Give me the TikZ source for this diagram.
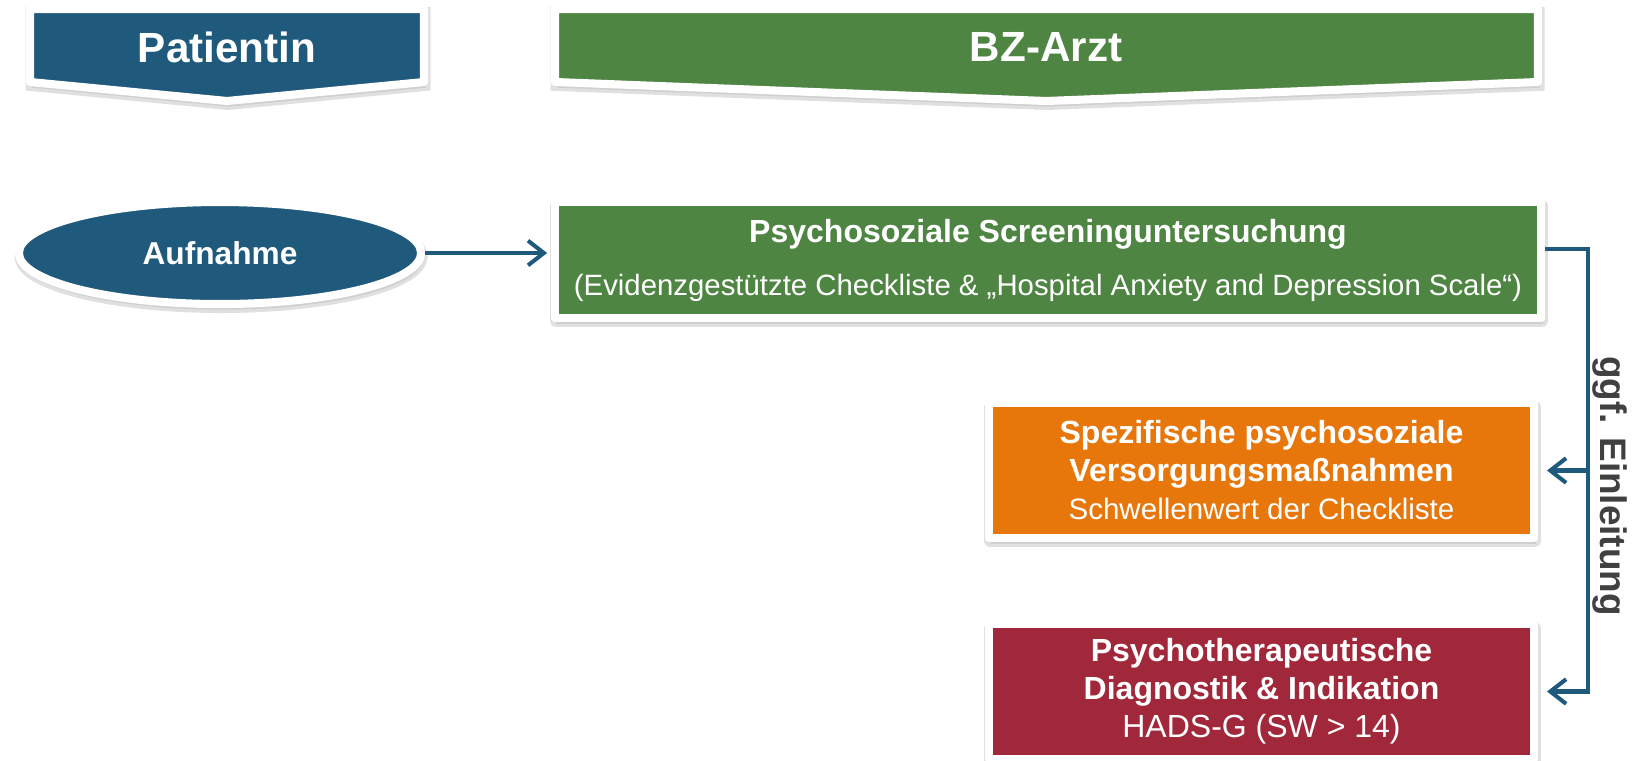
\documentclass[tikz,border=0pt]{standalone}
\usepackage{fontspec}
\setmainfont{Liberation Sans}
\usetikzlibrary{arrows.meta,shapes.geometric,shadows}
\definecolor{PatBlue}{HTML}{1F5A7D}
\definecolor{DocGreen}{HTML}{4E8542}
\definecolor{CareOrange}{HTML}{E8770B}
\definecolor{DiagRed}{HTML}{A0283A}
\definecolor{LabelGray}{HTML}{404040}
\newcommand{\subline}[2]{{\fontsize{#1}{10.8}\selectfont #2}}

\begin{document}
\begin{tikzpicture}[x=0.01cm,y=-0.01cm,
    panel/.style={draw=white,line width=2.3pt,line join=round,
        preaction={draw=black!12,line width=3.1pt,transform canvas={xshift=0.3pt,yshift=-1pt}},
        drop shadow={shadow xshift=0.5pt,shadow yshift=-1.6pt,fill=black!25}},
    headtext/.style={text=white,font=\fontsize{12}{14}\selectfont\bfseries},
    boxtext/.style={text=white,font=\fontsize{9.1}{10.8}\selectfont,align=center,inner sep=0pt},
    flow/.style={PatBlue,line width=1.15pt,-{Straight Barb[length=4.5pt,width=7pt]}}]
    \useasboundingbox (0,0) rectangle (1639,760);

%   Kopfzeilen
    \draw[panel,fill=PatBlue] (30,9) -- (424,9) -- (424,82) -- (227,101) -- (30,82) -- cycle;
    \draw[panel,fill=DocGreen] (555,9) -- (1538,9) -- (1538,82) -- (1046,101) -- (555,82) -- cycle;
    \node[headtext] (patient) at (227,47) {Patientin};
    \node[headtext] (arzt) at (1046,47) {BZ-Arzt};

%   Ablauf
    \node[panel,fill=PatBlue,ellipse,minimum width=4.02cm,minimum height=1.02cm,boxtext,
        font=\fontsize{9}{10.8}\selectfont\bfseries] (aufnahme) at (220,253) {Aufnahme};
    \node[panel,fill=DocGreen,minimum width=9.86cm,minimum height=1.16cm,boxtext] (screen) at (1048,260)
        {\textbf{Psychosoziale Screeninguntersuchung}\\[4.3pt]
         \subline{8.35}{(Evidenzgestützte Checkliste \& „Hospital Anxiety and Depression Scale“)}};
    \node[panel,fill=CareOrange,minimum width=5.45cm,minimum height=1.35cm,boxtext] (spez) at (1261.5,470.5)
        {\textbf{Spezifische psychosoziale}\\\textbf{Versorgungsmaßnahmen}\\\subline{8.4}{Schwellenwert der Checkliste}};
    \node[panel,fill=DiagRed,minimum width=5.45cm,minimum height=1.35cm,boxtext] (diag) at (1261.5,691.5)
        {\textbf{Psychotherapeutische}\\\textbf{Diagnostik \& Indikation}\\HADS-G (SW > 14)};

%   Verbindungen
    \draw[flow,shorten >=1pt] (aufnahme.east) -- (aufnahme.east -| screen.west);
    \coordinate (bus) at (1588,249);
    \draw[flow,shorten >=2.5pt] (screen.east |- bus) -- (bus) -- (bus |- diag.east) -- (diag.east);
    \draw[flow,shorten >=2.5pt] (bus |- spez.east) -- (spez.east);
    \node[rotate=-90,text=LabelGray,font=\fontsize{10.5}{12}\selectfont\bfseries] (einl) at (1610,486) {ggf. Einleitung};
\end{tikzpicture}
\end{document}
